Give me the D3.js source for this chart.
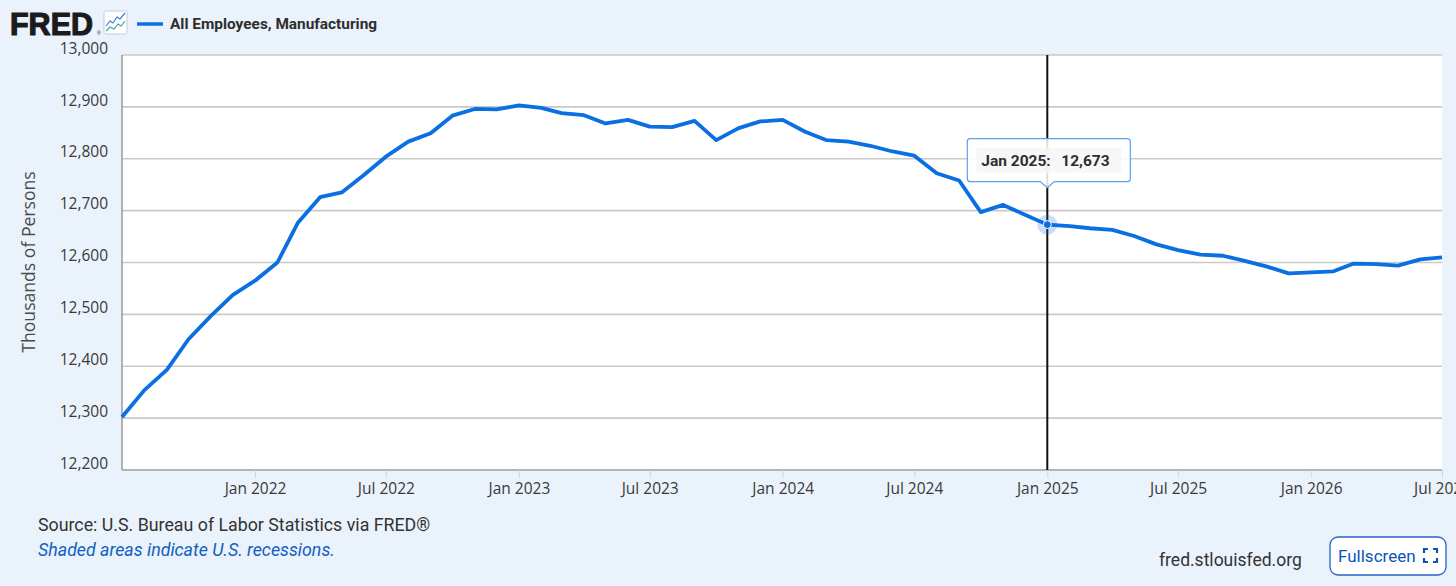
<!DOCTYPE html>
<html>
<head>
<meta charset="utf-8">
<script src="https://cdn.jsdelivr.net/npm/d3@7"></script>
<style>
  html, body { margin: 0; padding: 0; background: #eaf2fb; overflow: hidden; }
  svg { display: block; }
</style>
</head>
<body>
<div id="chart"></div>
<script>
var width = 1456;
var height = 586;
var margin = { top: 55, right: 14, bottom: 116, left: 122 };

// monthly observations, Jul 2021 .. Jul 2026
var months = [
  "2021-07", "2021-08", "2021-09", "2021-10", "2021-11", "2021-12",
  "2022-01", "2022-02", "2022-03", "2022-04", "2022-05", "2022-06",
  "2022-07", "2022-08", "2022-09", "2022-10", "2022-11", "2022-12",
  "2023-01", "2023-02", "2023-03", "2023-04", "2023-05", "2023-06",
  "2023-07", "2023-08", "2023-09", "2023-10", "2023-11", "2023-12",
  "2024-01", "2024-02", "2024-03", "2024-04", "2024-05", "2024-06",
  "2024-07", "2024-08", "2024-09", "2024-10", "2024-11", "2024-12",
  "2025-01", "2025-02", "2025-03", "2025-04", "2025-05", "2025-06",
  "2025-07", "2025-08", "2025-09", "2025-10", "2025-11", "2025-12",
  "2026-01", "2026-02", "2026-03", "2026-04", "2026-05", "2026-06",
  "2026-07"
];
var employees = [
  12302, 12354, 12393, 12452, 12497, 12537,
  12565, 12600, 12676, 12726, 12735, 12769,
  12804, 12833, 12849, 12883, 12896, 12895,
  12903, 12898, 12888, 12884, 12868, 12875,
  12862, 12861, 12873, 12836, 12859, 12872,
  12875, 12852, 12836, 12833, 12825, 12814,
  12806, 12772, 12758, 12697, 12711, 12692,
  12673, 12670, 12666, 12663, 12651, 12635,
  12624, 12615, 12613, 12603, 12592, 12579,
  12581, 12583, 12598, 12597, 12594, 12606,
  12610
];
var yTicks = [12200, 12300, 12400, 12500, 12600, 12700, 12800, 12900, 13000];
var xTicks = ["2022-01", "2022-07", "2023-01", "2023-07", "2024-01",
              "2024-07", "2025-01", "2025-07", "2026-01", "2026-07"];
var hoverMonth = "2025-01";

var seriesName = "All Employees, Manufacturing";
var yTitle = "Thousands of Persons";
var sourceText = "Source: U.S. Bureau of Labor Statistics via FRED\u00AE";
var shadeText = "Shaded areas indicate U.S. recessions.";

var lineColor = "#0a6fe0";
var parseMonth = d3.timeParse("%Y-%m");

var data = months.map(function(m, i) {
  return { date: parseMonth(m), value: employees[i] };
});

var svg = d3.select("#chart")
  .append("svg")
  .attr("width", width)
  .attr("height", height);

var chartWidth = width - margin.left - margin.right;
var chartHeight = height - margin.top - margin.bottom;

var xScale = d3.scaleTime()
  .domain(d3.extent(data, function(d) { return d.date; }))
  .range([0, chartWidth]);
var yScale = d3.scaleLinear()
  .domain([12200, 13000])
  .range([chartHeight, 0]);

// header: logo + legend
var header = svg.append("g");
header.append("text")
  .attr("x", 10).attr("y", 35)
  .attr("textLength", 83)
  .attr("lengthAdjust", "spacingAndGlyphs")
  .style("font-family", "'Liberation Sans', Arial, sans-serif")
  .style("font-weight", "bold")
  .style("font-size", "32px")
  .style("fill", "#1b1b1b")
  .style("stroke", "#1b1b1b")
  .style("stroke-width", "1.2px")
  .text("FRED");
header.append("text")
  .attr("x", 97).attr("y", 35)
  .style("font-family", "'Liberation Sans', Arial, sans-serif")
  .style("font-size", "5px")
  .style("fill", "#1b1b1b")
  .text("\u00AE");
header.append("rect")
  .attr("x", 104).attr("y", 11).attr("width", 23).attr("height", 23)
  .attr("rx", 1.5)
  .style("fill", "#ffffff").style("stroke", "#c5ccd4").style("stroke-width", 1);
header.append("path")
  .attr("d", "M106,26 L110,21 L113,23 L117,17 L120,19 L125,13")
  .style("fill", "none").style("stroke", "#3a7fd0").style("stroke-width", 1.2);
header.append("path")
  .attr("d", "M106,31 L110,27 L114,29 L118,24 L121,26 L125,21")
  .style("fill", "none").style("stroke", "#3aa89a").style("stroke-width", 1.2);
header.append("line")
  .attr("x1", 137).attr("x2", 163).attr("y1", 24).attr("y2", 24)
  .style("stroke", lineColor).style("stroke-width", 3.5);
header.append("text")
  .attr("x", 170).attr("y", 29)
  .style("font-family", "Roboto, sans-serif")
  .style("font-weight", "bold")
  .style("font-size", "15.4px")
  .style("fill", "#2e2e2e")
  .text(seriesName);

var g = svg.append("g")
  .attr("transform", "translate(" + margin.left + "," + margin.top + ")");

// plot background
g.append("rect")
  .attr("x", 0).attr("y", 0)
  .attr("width", chartWidth).attr("height", chartHeight)
  .style("fill", "#ffffff");

// horizontal grid
g.selectAll(".grid")
  .data(yTicks)
  .enter().append("line")
  .attr("class", "grid")
  .attr("x1", 0).attr("x2", chartWidth)
  .attr("y1", function(d) { return yScale(d); })
  .attr("y2", function(d) { return yScale(d); })
  .style("stroke", "#c9c9c9")
  .style("stroke-width", 1.6);

// y axis labels
var yAxis = d3.axisLeft(yScale)
  .tickValues(yTicks)
  .tickSize(0)
  .tickPadding(14)
  .tickFormat(d3.format(","));
var yg = g.append("g").call(yAxis);
yg.select(".domain").remove();
yg.selectAll("text")
  .attr("dy", "-0.12em")
  .style("font-family", "'Open Sans', sans-serif")
  .style("font-size", "15.5px")
  .style("fill", "#3a3a3a");

// left and bottom edges
g.append("line")
  .attr("x1", 0).attr("x2", 0).attr("y1", 0).attr("y2", chartHeight)
  .style("stroke", "#8a8a8a").style("stroke-width", 1.3);
g.append("line")
  .attr("x1", 0).attr("x2", chartWidth).attr("y1", chartHeight).attr("y2", chartHeight)
  .style("stroke", "#a8a8a8").style("stroke-width", 1.6);

// x axis
var xAxis = d3.axisBottom(xScale)
  .tickValues(xTicks.map(parseMonth))
  .tickSize(8)
  .tickPadding(5)
  .tickFormat(d3.timeFormat("%b %Y"));
var xg = g.append("g")
  .attr("transform", "translate(0," + chartHeight + ")")
  .call(xAxis);
xg.select(".domain").remove();
xg.selectAll("line").style("stroke", "#cfd8e6").style("stroke-width", 1);
xg.selectAll("text")
  .style("font-family", "'Open Sans', sans-serif")
  .style("font-size", "15.5px")
  .style("fill", "#3a3a3a");

// y axis title
svg.append("text")
  .attr("transform", "translate(35,262) rotate(-90)")
  .attr("text-anchor", "middle")
  .style("font-family", "'Open Sans', sans-serif")
  .style("font-size", "17.6px")
  .style("fill", "#4a4a4a")
  .text(yTitle);

// crosshair
var hover = data.find(function(d) { return +d.date === +parseMonth(hoverMonth); });
var hx = xScale(hover.date);
var hy = yScale(hover.value);
g.append("line")
  .attr("x1", hx).attr("x2", hx).attr("y1", 0).attr("y2", chartHeight)
  .style("stroke", "#111111").style("stroke-width", 2);

// series line
var line = d3.line()
  .x(function(d) { return xScale(d.date); })
  .y(function(d) { return yScale(d.value); });
g.append("path")
  .datum(data)
  .attr("d", line)
  .style("fill", "none")
  .style("stroke", lineColor)
  .style("stroke-width", 3.8)
  .style("stroke-linejoin", "round");

// hover marker
g.append("circle")
  .attr("cx", hx).attr("cy", hy).attr("r", 10)
  .style("fill", lineColor).style("opacity", 0.22);
g.append("circle")
  .attr("cx", hx).attr("cy", hy).attr("r", 4)
  .style("fill", lineColor).style("stroke", "#ffffff").style("stroke-width", 1);

// tooltip
var tipW = 163, tipH = 43;
var tipX = hx - 80, tipY = hy - 86;
var tip = g.append("g");
tip.append("path")
  .attr("d", "M" + (tipX + 3) + "," + tipY +
    " h" + (tipW - 6) + " q3,0 3,3 v" + (tipH - 6) + " q0,3 -3,3" +
    " H" + (hx + 7) + " L" + hx + "," + (tipY + tipH + 6) + " L" + (hx - 7) + "," + (tipY + tipH) +
    " H" + (tipX + 3) + " q-3,0 -3,-3 v" + (-(tipH - 6)) + " q0,-3 3,-3 Z")
  .style("fill", "rgba(255,255,255,0.86)")
  .style("stroke", "#5aa2e8")
  .style("stroke-width", 1.2);
tip.append("rect")
  .attr("x", tipX + 9).attr("y", tipY + 9)
  .attr("width", tipW - 18).attr("height", tipH - 18)
  .style("fill", "rgba(245,245,245,0.8)");
tip.append("text")
  .attr("x", tipX + 14).attr("y", tipY + 27)
  .style("font-family", "Roboto, sans-serif")
  .style("font-weight", "bold")
  .style("font-size", "15.5px")
  .style("fill", "#2e2e2e")
  .text(d3.timeFormat("%b %Y")(hover.date) + ":");
tip.append("text")
  .attr("x", tipX + 94).attr("y", tipY + 27)
  .style("font-family", "Roboto, sans-serif")
  .style("font-weight", "bold")
  .style("font-size", "15.5px")
  .style("fill", "#2e2e2e")
  .text(d3.format(",")(hover.value));

// footer
svg.append("text")
  .attr("x", 38).attr("y", 531)
  .style("font-family", "Roboto, sans-serif")
  .style("font-size", "17.8px")
  .style("fill", "#333333")
  .text(sourceText);
svg.append("text")
  .attr("x", 38).attr("y", 556)
  .style("font-family", "Roboto, sans-serif")
  .style("font-style", "italic")
  .style("font-size", "17.8px")
  .style("fill", "#1160c0")
  .text(shadeText);
svg.append("text")
  .attr("x", 1159).attr("y", 566)
  .style("font-family", "Roboto, sans-serif")
  .style("font-size", "17.5px")
  .style("fill", "#333333")
  .text("fred.stlouisfed.org");

var btn = svg.append("g");
btn.append("rect")
  .attr("x", 1330).attr("y", 537).attr("width", 116).attr("height", 38)
  .attr("rx", 8)
  .style("fill", "#ffffff").style("stroke", "#2463c2").style("stroke-width", 1.3);
btn.append("text")
  .attr("x", 1338).attr("y", 562)
  .style("font-family", "Roboto, sans-serif")
  .style("font-size", "17px")
  .style("fill", "#0b55b7")
  .text("Fullscreen");
btn.append("path")
  .attr("d", "M1424,553 v-4 h4 M1433,549 h4 v4 M1437,558 v4 h-4 M1428,562 h-4 v-4")
  .style("fill", "none").style("stroke", "#0b55b7").style("stroke-width", 2.2);
</script>
</body>
</html>
